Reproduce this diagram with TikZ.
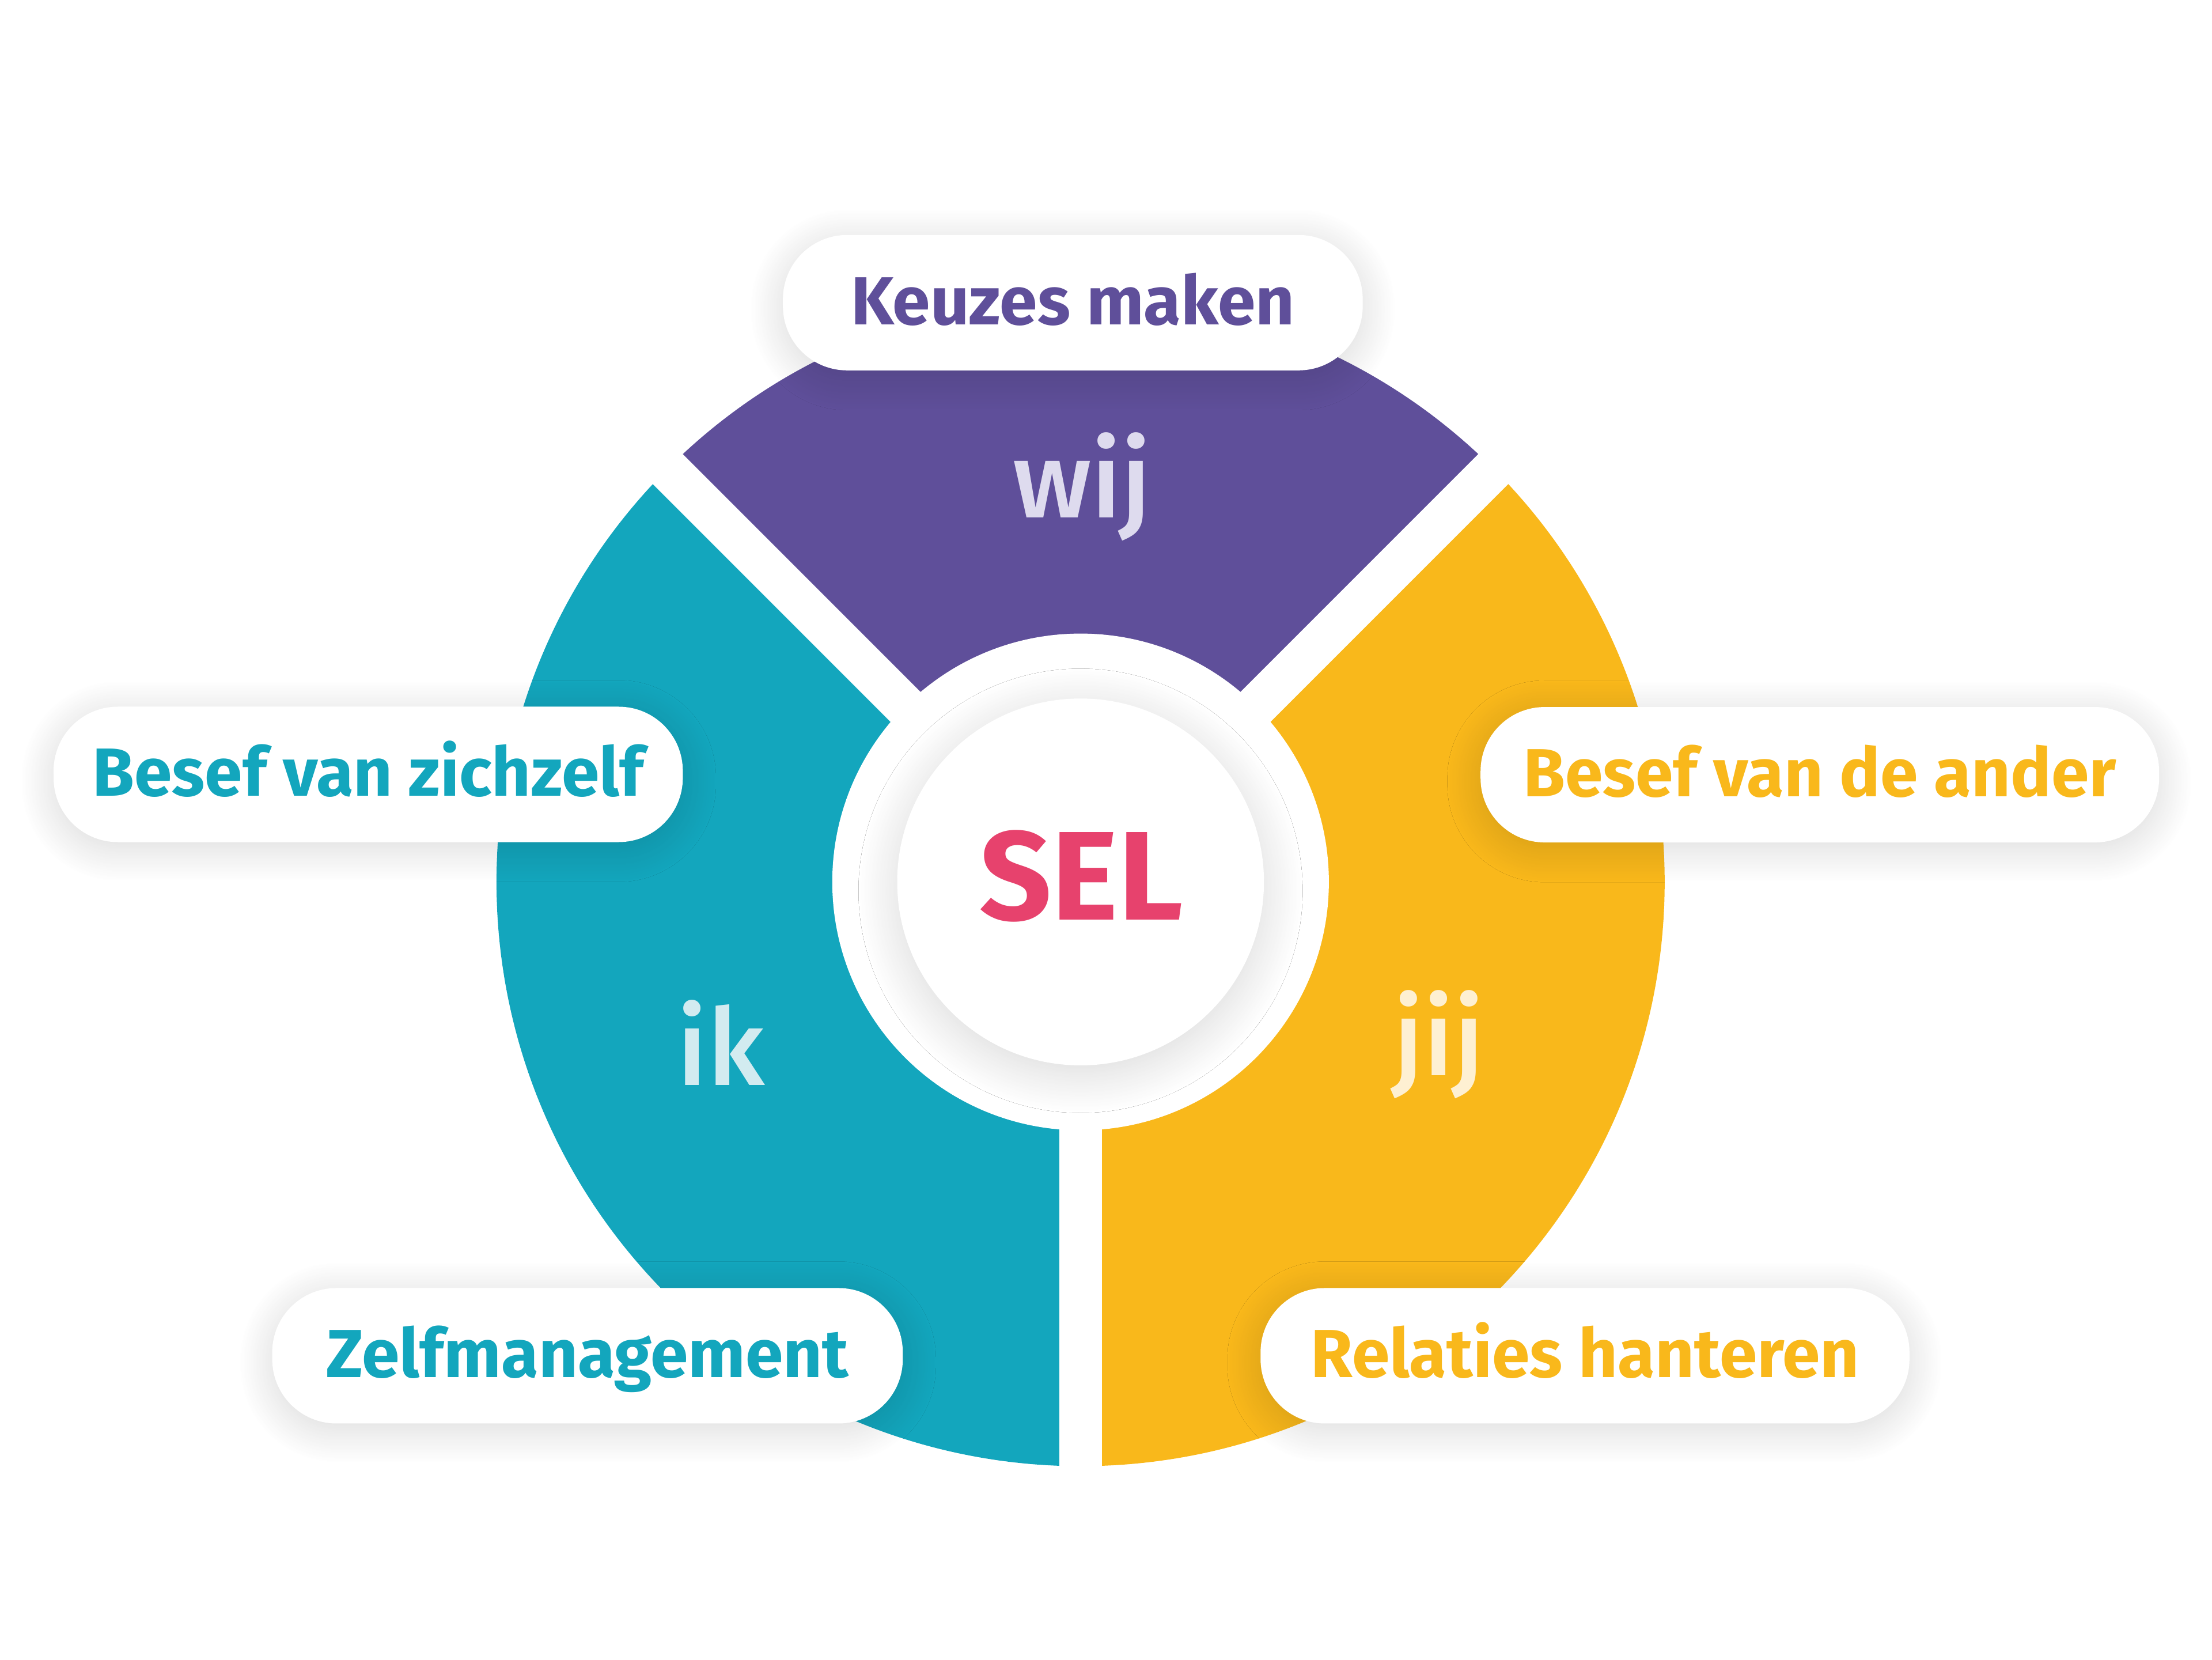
\documentclass[tikz,border=0pt]{standalone}
\usepackage{fontspec}
\setmainfont{Fira Sans}
\newfontfamily\wordfont{Fira Sans Medium}
\usetikzlibrary{shadows.blur}

\definecolor{wijfill}{HTML}{5F4F9A}
\definecolor{ikfill}{HTML}{13A6BD}
\definecolor{jijfill}{HTML}{F9B81B}
\definecolor{selpink}{HTML}{E7426D}
\definecolor{wijtext}{HTML}{DEDBEE}
\definecolor{iktext}{HTML}{D2EBF0}
\definecolor{jijtext}{HTML}{FEF0D2}

\begin{document}
\begin{tikzpicture}[
  pill/.style  = {fill=white, rounded corners=0.58cm, inner sep=0pt,
                  minimum height=1.224cm, text height=14pt, text depth=2.8pt,
                  font=\fontsize{17.5}{20}\selectfont\bfseries,
                  blur shadow={shadow blur radius=0.3cm, shadow xshift=0pt,
                               shadow yshift=-0.06cm, shadow opacity=15,
                               shadow blur steps=30}},
  hub/.style   = {circle, fill=white, inner sep=0pt, minimum size=3.316cm,
                  blur shadow={shadow blur radius=0.35cm, shadow xshift=0pt,
                               shadow yshift=-0.08cm, shadow opacity=15,
                               shadow blur steps=30}},
  word/.style  = {anchor=base, inner sep=0pt, font=\wordfont\fontsize{27.5}{30}\selectfont},
  seltext/.style = {anchor=base, inner sep=0pt, text=selpink,
                  font=\fontsize{32.5}{36}\selectfont\bfseries},
  gap/.style   = {draw=white, line width=0.383cm},
]

\useasboundingbox (0,0) rectangle (20,15);

\def\Rout{5.281}  % outer radius of the ring
\def\Rin{2.245}   % inner radius of the ring

\coordinate (c) at (9.770,7.028);

% ---- the three sectors -----------------------------------------------------
\fill[wijfill] (c) -- ++(45:\Rout)  arc[start angle=45,  end angle=135, radius=\Rout] -- cycle;
\fill[ikfill]  (c) -- ++(135:\Rout) arc[start angle=135, end angle=270, radius=\Rout] -- cycle;
\fill[jijfill] (c) -- ++(270:\Rout) arc[start angle=270, end angle=405, radius=\Rout] -- cycle;

% ---- white gaps and hole ---------------------------------------------------
\foreach \a in {45,135,270}
  \draw[gap] (c) -- ++(\a:5.6);
\fill[white] (c) circle[radius=\Rin];

% ---- centre ----------------------------------------------------------------
\node[hub] (hub) at (c) {};
\node[seltext] (sel) at (9.777,6.684) {SEL};

% ---- words in the sectors --------------------------------------------------
\node[word, text=wijtext] (wij) at (9.783,10.319) {wij};
\node[word, text=iktext]  (ik)  at (6.518,5.191)  {ik};
\node[word, text=jijtext] (jij) at (13.010,5.281) {jij};

% ---- labels ----------------------------------------------------------------
\node[pill, minimum width=5.242cm, text=wijfill] (keuzes)   at (9.700,12.264) {Keuzes maken};
\node[pill, minimum width=5.689cm, text=ikfill]  (zichzelf) at (3.329,8.000)  {Besef van zichzelf};
\node[pill, minimum width=6.135cm, text=jijfill] (ander)    at (16.454,7.997) {Besef van de ander};
\node[pill, minimum width=5.701cm, text=ikfill]  (zelf)     at (5.312,2.745)  {Zelfmanagement};
\node[pill, minimum width=5.867cm, text=jijfill] (relaties) at (14.331,2.745) {Relaties hanteren};

\end{tikzpicture}
\end{document}
